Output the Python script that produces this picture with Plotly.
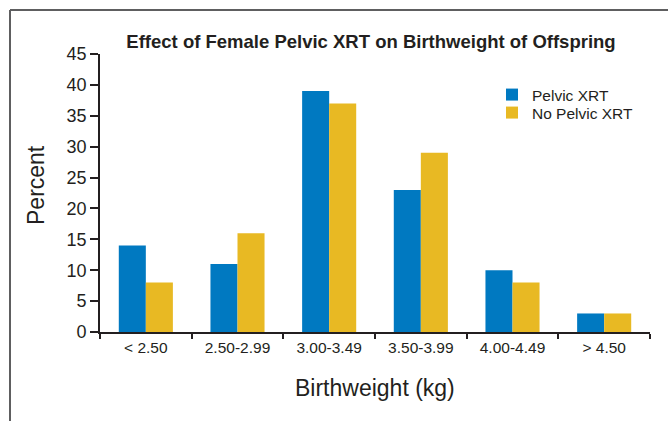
import plotly.graph_objects as go

categories = ["< 2.50", "2.50-2.99", "3.00-3.49", "3.50-3.99", "4.00-4.49", "> 4.50"]
pelvic_xrt = [14, 11, 39, 23, 10, 3]
no_pelvic_xrt = [8, 16, 37, 29, 8, 3]
y_ticks = [0, 5, 10, 15, 20, 25, 30, 35, 40, 45]

BLUE = "#0079C1"
YELLOW = "#E8B923"
TXT = "#231F20"
FONT = "Liberation Sans, Arial, sans-serif"

fig = go.Figure()
fig.add_trace(go.Bar(x=categories, y=pelvic_xrt, name="Pelvic XRT", marker_color=BLUE,
                     marker_line_width=0, legend="legend", showlegend=True))
fig.add_trace(go.Bar(x=categories, y=no_pelvic_xrt, name="No Pelvic XRT", marker_color=YELLOW,
                     marker_line_width=0, legend="legend2", showlegend=True))

L, R, T, B = 100, 18, 54, 89
W, H = 668, 421
pw, ph = W - L - R, H - T - B

def px(x):
    return (x - L) / pw

def py(y):
    return (H - B - y) / ph

leg_common = dict(xanchor="left", yanchor="top", font=dict(size=15.5, color=TXT),
                  bgcolor="rgba(0,0,0,0)", itemwidth=30, visible=True)

fig.update_layout(
    width=W, height=H,
    showlegend=True,
    margin=dict(l=L, r=R, t=T, b=B, pad=0),
    paper_bgcolor="white", plot_bgcolor="white",
    barmode="group", bargap=0.41, bargroupgap=0,
    font=dict(family=FONT, color=TXT),
    title=dict(text="<b>Effect of Female Pelvic XRT on Birthweight of Offspring</b>",
               x=px(371), xanchor="center", xref="paper", y=1 - 42 / H, yanchor="middle",
               font=dict(size=18.5, color=TXT, family=FONT)),
    legend=dict(x=px(492), y=py(78), **leg_common),
    legend2=dict(x=px(492), y=py(96), **leg_common),
    xaxis=dict(showline=True, linecolor=TXT, linewidth=1.8, ticks="outside",
               tickson="boundaries", ticklen=5, tickcolor=TXT, tickwidth=1.8,
               tickfont=dict(size=15.5, color=TXT),
               showgrid=False, zeroline=False),
    yaxis=dict(range=[0, 45], tickvals=y_ticks, showline=True, linecolor=TXT, linewidth=1.8,
               ticks="outside", ticklen=8, tickcolor=TXT, tickwidth=1.5,
               tickfont=dict(size=18, color=TXT),
               showgrid=False, zeroline=False),
    annotations=[
        dict(text="Birthweight (kg)", xref="paper", yref="paper", x=px(375), y=py(388),
             xanchor="center", yanchor="middle", showarrow=False,
             font=dict(size=23, color=TXT, family=FONT)),
        dict(text="Percent", xref="paper", yref="paper", x=px(36), y=py(185),
             xanchor="center", yanchor="middle", showarrow=False, textangle=-90,
             font=dict(size=23, color=TXT, family=FONT)),
    ],
    shapes=[
        dict(type="line", xref="paper", yref="paper", x0=px(10), x1=px(668), y0=py(10), y1=py(10),
             line=dict(color="#5E5E60", width=2)),
        dict(type="line", xref="paper", yref="paper", x0=px(10), x1=px(10), y0=py(10), y1=py(421),
             line=dict(color="#5E5E60", width=2)),
    ],
)

fig.write_html("out.html", config={"displayModeBar": False},
               post_script="document.body.style.margin='0';document.body.style.overflow='hidden';")
